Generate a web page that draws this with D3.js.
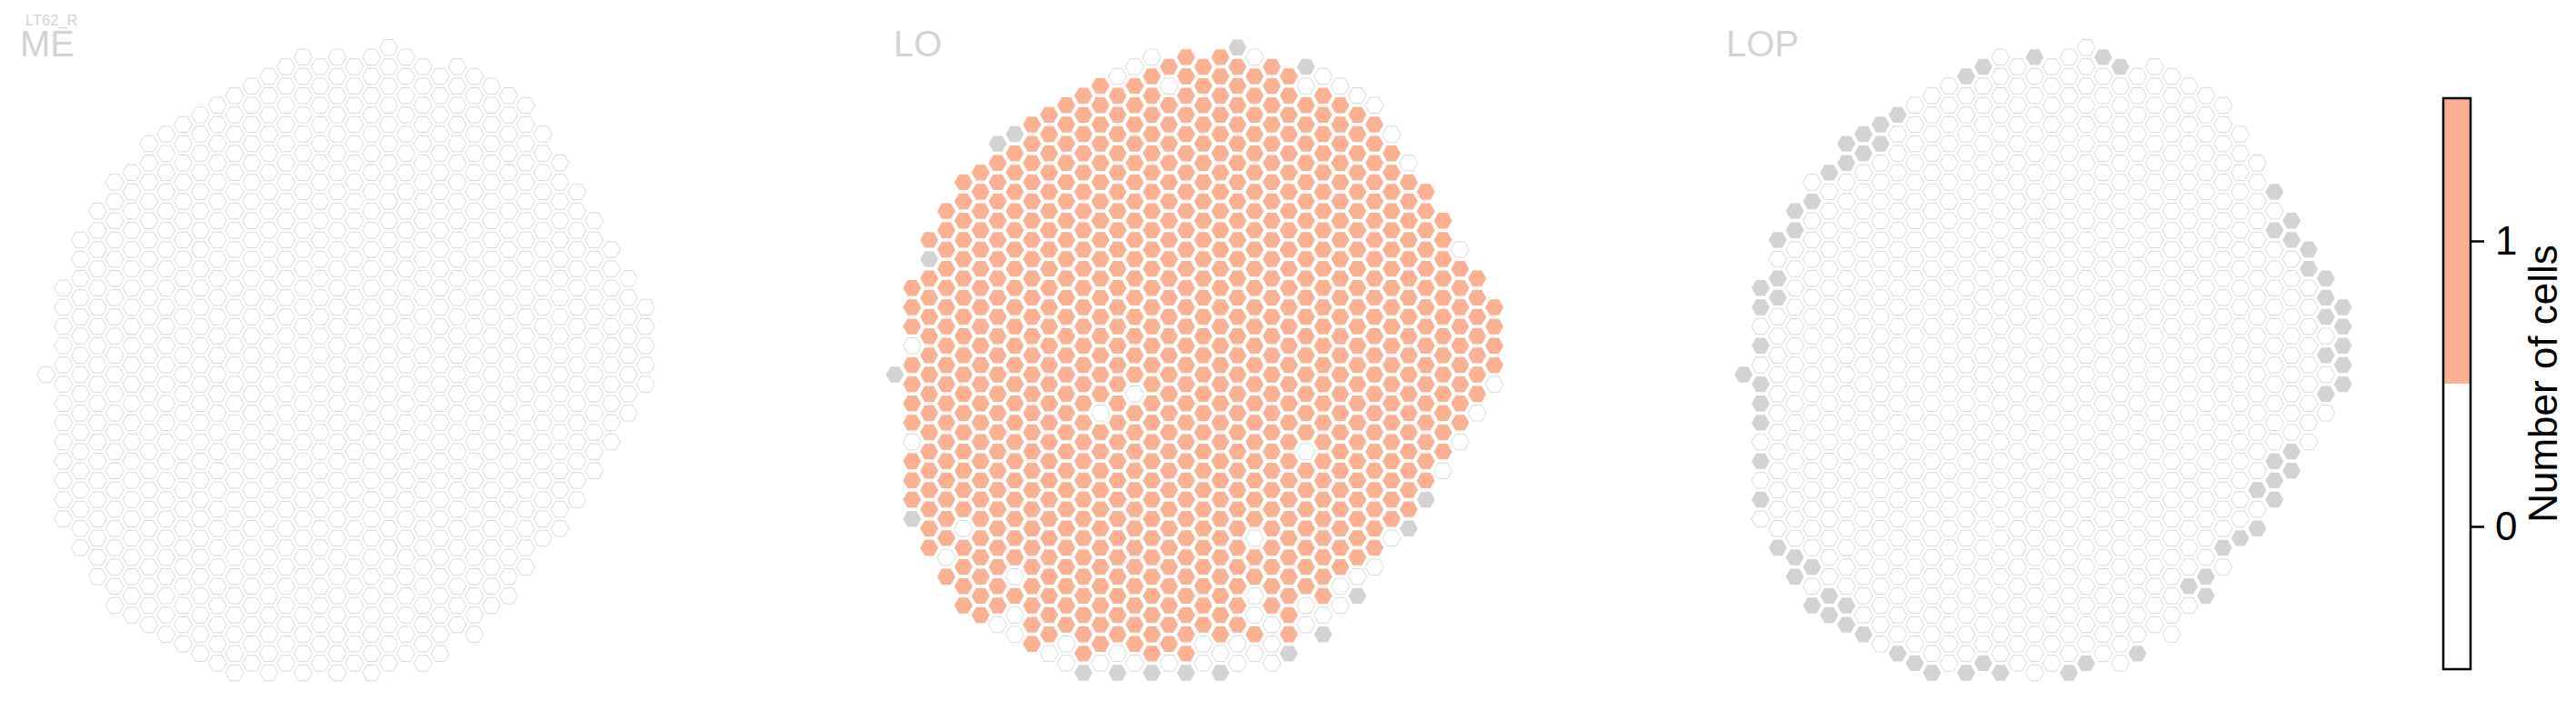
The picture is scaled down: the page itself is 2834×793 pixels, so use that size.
<!DOCTYPE html>
<html><head><meta charset="utf-8">
<script src="https://cdn.jsdelivr.net/npm/d3@7"></script>
<style>
body{margin:0;background:#fff;}
svg{display:block;font-family:"Liberation Sans",Arial,sans-serif;}
</style>
</head><body>
<svg id="chart" width="2834" height="793"></svg>
<script>
// ---------------- data ----------------
const cellType = "LT62_R";
const panels = ["ME", "LO", "LOP"];
// hex grid: per column, first and last half-row index (k) present
const columnTop    = [34,25,20,17,14,13,10,9,8,7,6,5,4,3,2,1,2,1,2,1,0,1,2,3,2,3,4,5,6,9,12,15,18,21,24,27];
const columnBottom = [34,49,52,55,58,59,60,61,62,63,64,65,64,65,64,65,64,65,64,65,64,63,64,63,60,61,58,57,54,51,50,47,44,41,38,35];
// ME: every column has 0 cells
const meDefault = 0;
// LO: 1 cell everywhere except these
const loDefault = 1;
const loZero = [[1,31],[1,41],[3,53],[4,50],[6,60],[7,55],[7,59],[7,61],[9,63],[10,62],[10,64],[12,38],[12,64],
  [13,3],[13,63],[14,2],[14,36],[14,64],[15,1],[16,4],[16,64],[18,62],[18,64],[19,63],[20,62],[20,64],[21,1],
  [21,51],[21,57],[21,59],[21,63],[22,60],[22,62],[22,64],[24,4],[24,42],[24,58],[24,60],[25,3],[25,59],[26,4],
  [26,56],[26,58],[27,5],[27,55],[28,6],[28,54],[29,9],[29,51],[30,12],[32,44],[33,21],[33,41],[34,38],[35,35]];
const loMissing = [[0,34],[1,49],[2,22],[6,10],[7,9],[11,65],[13,65],[15,65],[17,65],[19,65],[20,0],[23,63],
  [24,2],[25,61],[27,57],[30,50],[31,47]];
// LOP: 0 cells everywhere, some columns missing
const lopDefault = 0;
const lopMissing = [[0,34],[1,25],[1,27],[1,31],[1,35],[1,37],[1,39],[1,43],[1,47],[2,20],[2,24],[2,26],[2,52],
  [3,17],[3,19],[3,53],[3,55],[4,16],[4,54],[4,58],[5,13],[5,57],[5,59],[6,10],[6,12],[6,58],[6,60],[7,9],[7,11],
  [7,61],[8,8],[8,10],[9,7],[9,63],[10,64],[11,65],[13,3],[13,65],[14,2],[14,64],[15,65],[17,1],[19,65],[20,64],
  [21,1],[22,2],[23,63],[26,56],[27,55],[27,57],[28,52],[29,51],[30,46],[30,50],[31,15],[31,19],[31,43],[31,45],
  [31,47],[32,18],[32,20],[32,42],[32,44],[33,21],[33,23],[34,24],[34,26],[34,28],[34,32],[34,36],[35,27],[35,29],
  [35,31],[35,33],[35,35]];
const colorbarTicks = [0, 1];
const colorbarDomain = [-0.5, 1.5];
const colorbarLabel = "Number of cells";

// ---------------- build ----------------
function buildPanel(def, zeros, missing) {
  const key = (c,k) => c + ":" + k;
  const z = new Set((zeros||[]).map(d => key(d[0],d[1])));
  const m = new Set((missing||[]).map(d => key(d[0],d[1])));
  const out = [];
  columnTop.forEach((t, c) => {
    for (let k = t; k <= columnBottom[c]; k += 2) {
      let v = def;
      if (z.has(key(c,k))) v = 0;
      if (m.has(key(c,k))) v = NaN;
      out.push({c, k, v});
    }
  });
  return out;
}
const panelData = [
  buildPanel(meDefault, [], []),
  buildPanel(loDefault, loZero, loMissing),
  buildPanel(lopDefault, [], lopMissing)
];

const svg = d3.select("#chart");
const panelX0 = [50.8, 984.6, 1918.2];
const labelX = [22, 983, 1899];
const colStep = 18.84;
const y = d3.scaleLinear().domain([0, 65]).range([52.3, 740]);
const color = d3.scaleThreshold().domain([0.5]).range(["#ffffff", "#fbb093"]);
const missingColor = "#d3d3d3";
const rx = 10, ry = 8.7;
const hexPath = "M" + [[rx,0],[rx/2,ry],[-rx/2,ry],[-rx,0],[-rx/2,-ry],[rx/2,-ry]].map(p => p.join(",")).join("L") + "Z";

panels.forEach((name, i) => {
  const x = d3.scaleLinear().domain([0, 35]).range([panelX0[i], panelX0[i] + 35 * colStep]);
  const g = svg.append("g");
  g.selectAll("path.hex").data(panelData[i]).join("path")
    .attr("class", "hex")
    .attr("d", hexPath)
    .attr("transform", d => `translate(${x(d.c)},${y(d.k)})`)
    .attr("fill", d => isNaN(d.v) ? missingColor : color(d.v))
    .attr("stroke", d => (!isNaN(d.v) && d.v < 0.5) ? "#d9d9d9" : "none")
    .attr("stroke-width", 1);
  svg.append("text")
    .attr("x", labelX[i]).attr("y", 62)
    .attr("font-size", 40).attr("fill", "#d3d3d3")
    .text(name);
});
svg.append("text").attr("x", 28).attr("y", 27.5)
  .attr("font-size", 16.5).attr("fill", "#d3d3d3").text(cellType);

// ---------------- colorbar ----------------
const cbX = 2688, cbW = 30;
const cbY = d3.scaleLinear().domain(colorbarDomain.slice().reverse()).range([108, 736]);
const bands = [[-0.5, 0.5], [0.5, 1.5]];
svg.append("g").selectAll("rect").data(bands).join("rect")
  .attr("x", cbX).attr("width", cbW)
  .attr("y", d => cbY(d[1])).attr("height", d => cbY(d[0]) - cbY(d[1]))
  .attr("fill", d => color((d[0] + d[1]) / 2));
svg.append("rect").attr("x", cbX).attr("y", cbY(1.5)).attr("width", cbW)
  .attr("height", cbY(-0.5) - cbY(1.5))
  .attr("fill", "none").attr("stroke", "#000").attr("stroke-width", 2.5);
const axis = svg.append("g").attr("transform", `translate(${cbX + cbW},0)`)
  .call(d3.axisRight(cbY).tickValues(colorbarTicks).tickSize(15).tickPadding(12).tickFormat(d3.format("d")));
axis.select(".domain").remove();
axis.selectAll("line").attr("stroke", "#000").attr("stroke-width", 2.5);
axis.selectAll("text").attr("font-size", 44).attr("fill", "#000")
  .attr("font-family", "'Liberation Sans',Arial,sans-serif");
svg.append("text")
  .attr("transform", `translate(2813,${cbY(0.5)}) rotate(-90)`)
  .attr("text-anchor", "middle").attr("font-size", 44).attr("fill", "#000")
  .text(colorbarLabel);
</script>
</body></html>
